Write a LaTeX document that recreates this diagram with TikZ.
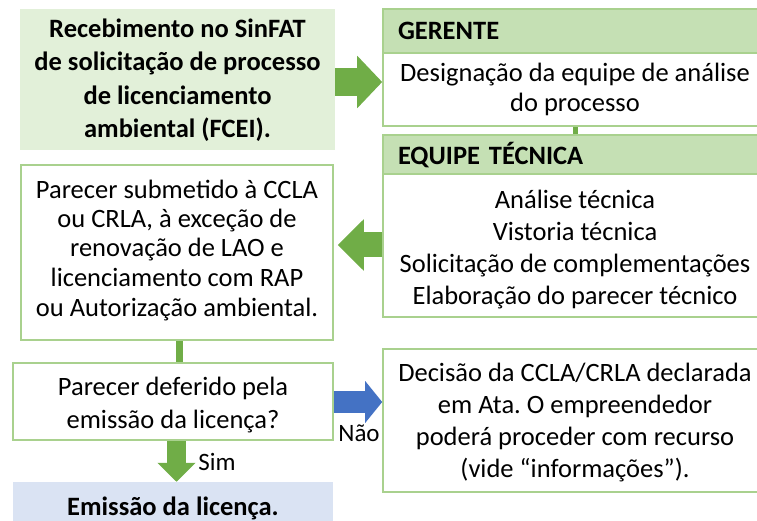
\documentclass[tikz,border=0pt]{standalone}
\usepackage{fontspec}
\setmainfont{Carlito}
\usetikzlibrary{arrows.meta}
\frenchspacing

\definecolor{verde}{HTML}{70AD47}
\definecolor{verdeborda}{HTML}{A9D18E}
\definecolor{verdecab}{HTML}{C5E0B4}
\definecolor{verdeclaro}{HTML}{E2F0D9}
\definecolor{azul}{HTML}{4472C4}
\definecolor{azulclaro}{HTML}{DAE3F3}

\begin{document}
\begin{tikzpicture}[x=1pt,y=-1pt,
  caixa/.style={draw=verdeborda,line width=1.6pt,fill=white,align=center,inner sep=0pt,font=\fontsize{26.5}{29.5}\selectfont},
  cabec/.style={draw=verdeborda,line width=1.6pt,fill=verdecab,text width=354pt,align=left,inner xsep=15pt,inner ysep=0pt,font=\bfseries\fontsize{26.5}{30}\selectfont},
  destaque/.style={align=center,inner sep=0pt,font=\bfseries\fontsize{26.5}{33.5}\selectfont},
  rotulo/.style={inner sep=0pt,font=\fontsize{25}{28}\selectfont},
  linha/.style={text height=#1,text depth=0pt},
  seta/.style={line width=#1}]
                        \useasboundingbox (0,0) rectangle (757,521);

                        \node[destaque,linha=117pt,fill=verdeclaro,minimum width=315pt,minimum height=141pt] (recebimento) at(177.5,79.5) {Recebimento no SinFAT\\de solicitação de processo\\de licenciamento\\ambiental (FCEI).};

                        \node[caixa,linha=44pt,minimum width=384pt,minimum height=73pt] (designacao) at(575,89.5) {Designação da equipe de análise\\do processo};
                        \node[cabec,linha=18pt,minimum height=44pt] (gerente) at(575,31) {GERENTE};

                        \node[caixa,linha=117pt,minimum width=384pt,minimum height=143pt,font=\fontsize{26.5}{32}\selectfont] (tecnica) at(575,245.5) {Análise técnica\\Vistoria técnica\\Solicitação de complementações\\Elaboração do parecer técnico};
                        \node[cabec,linha=21pt,minimum height=39pt] (equipe) at(575,154.5) {EQUIPE TÉCNICA};

                        \node[caixa,linha=127pt,minimum width=312pt,minimum height=175pt] (parecer) at(177,252.5) {Parecer submetido à CCLA\\ou CRLA, à exceção de\\renovação de LAO e\\licenciamento com RAP\\ou Autorização ambiental.};
                        \node[caixa,linha=53pt,minimum width=320pt,minimum height=77pt,font=\fontsize{26.5}{33}\selectfont] (decisao) at(173,401.5) {Parecer deferido pela\\emissão da licença?};
                        \node[caixa,linha=113pt,minimum width=384pt,minimum height=143pt,font=\fontsize{26.5}{31.7}\selectfont] (recurso) at(575,420.5) {Decisão da CCLA/CRLA declarada\\em Ata. O empreendedor\\poderá proceder com recurso\\(vide “informações”).};
                        \node[destaque,linha=20pt,fill=azulclaro,minimum width=320pt,minimum height=46pt] (emissao) at(173,505) {Emissão da licença.};

                        \draw[verde,seta=5pt] (designacao.south) -- (equipe.north);
                        \draw[verde,seta=7pt] ([xshift=2.5pt]parecer.south) -- ([xshift=6.5pt]decisao.north);

                        \draw[verde,seta=28pt,-{Triangle[length=25pt,width=51pt]}] ([yshift=-2.5pt]recebimento.east) -- ([yshift=7.5pt]designacao.west);
                        \draw[verde,seta=25pt,-{Triangle[length=26pt,width=50pt]}] ([yshift=0.5pt]tecnica.west) -- ([xshift=4pt,yshift=7.5pt]parecer.east);
                        \draw[azul,seta=22pt,-{Triangle[length=17pt,width=41pt]}] ([yshift=-0.5pt]decisao.east) -- ([yshift=18.5pt]recurso.west);
                        \draw[verde,seta=19pt,-{Triangle[length=19pt,width=37pt]}] ([xshift=3.5pt]decisao.south) -- ([xshift=3.5pt]emissao.north);

                        \node[rotulo] (sim) at(217,462) {Sim};
                        \node[rotulo] (nao) at(359,433) {Não};
                    \end{tikzpicture}
\end{document}
